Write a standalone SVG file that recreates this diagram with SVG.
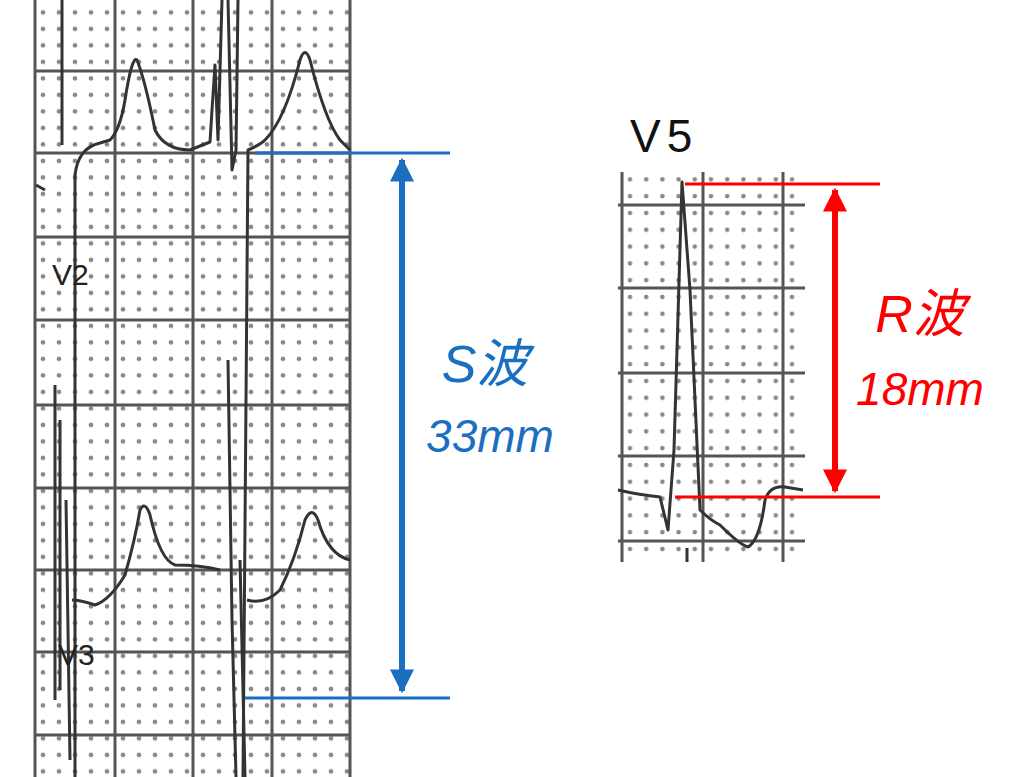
<svg xmlns="http://www.w3.org/2000/svg" width="1024" height="777" viewBox="0 0 1024 777">
<defs>
<style>
.maj{stroke:#555;stroke-width:3;fill:none}
.tr{stroke:#333;stroke-width:3;fill:none;stroke-linejoin:round}
.lab{font-family:"Liberation Sans",sans-serif}
</style>
<pattern id="dotsL" x="35" y="-12" width="16" height="16.5" patternUnits="userSpaceOnUse"><circle cx="8" cy="8" r="2.3" fill="#888"/></pattern>
<pattern id="dotsR" x="622" y="205" width="16.2" height="16.8" patternUnits="userSpaceOnUse"><circle cx="8" cy="8" r="2.3" fill="#888"/></pattern>
<marker id="ab" viewBox="0 0 10 10" refX="9" refY="5" markerWidth="4" markerHeight="4" orient="auto-start-reverse"><path d="M0,0L10,5L0,10z" fill="#1a6fc0"/></marker>
<marker id="ar" viewBox="0 0 10 10" refX="9" refY="5" markerWidth="4" markerHeight="4" orient="auto-start-reverse"><path d="M0,0L10,5L0,10z" fill="#f00"/></marker>
</defs>
<rect width="1024" height="777" fill="#fff"/>
<g id="ecg-left">
<rect x="35" y="0" width="315" height="777" fill="url(#dotsL)"/>
<path class="maj" d="M35,0V777M115,0V777M193,0V777M272,0V777M350,0V777M35,71H350M35,153H350M35,237H350M35,320H350M35,405H350M35,488H350M35,570H350M35,652H350M35,735H350"/>
<path class="tr" d="M62,0V145M75,777V175Q78,148 100,143L110,140Q120,130 125,100Q132,55 137,60Q145,80 155,130Q165,150 190,150L210,142L212,110L215,65L218,140L222,0M228,0L232,170L236,150L238,0M243,777L248,150Q260,145 265,140Q285,120 300,60Q305,45 310,60Q325,120 340,140L350,150"/>
<path class="tr" d="M36,185L45,190"/>
<path class="tr" d="M55,385V700M60,420V690M66,500L70,760M72,600Q80,600 95,605Q110,600 125,575Q135,540 140,510Q145,500 150,515Q160,560 175,565Q200,565 220,570M228,360L232,620L236,777M240,560L245,777M247,600Q265,605 280,590Q295,560 305,520Q312,505 318,520Q328,555 350,560"/>
<text class="lab" x="52" y="285" font-size="30" fill="#222">V2</text>
<text class="lab" x="58" y="665" font-size="30" fill="#222">V3</text>
</g>
<g id="ecg-right">
<rect x="618" y="172" width="187" height="390" fill="url(#dotsR)"/>
<path class="maj" d="M622,172V562M703,172V562M783,172V562M618,205H805M618,288H805M618,373H805M618,456H805M618,541H805"/>
<path class="tr" d="M618,490Q640,495 660,497L668,530L674,450L682,182L690,290L700,510Q710,520 720,525Q740,545 748,547Q760,540 765,500Q770,485 785,487L803,490M687,548V562"/>
<text class="lab" x="630" y="152" font-size="46" fill="#111" letter-spacing="6">V5</text>
</g>
<g id="connectors">
<path d="M255,153H450M245,698H450" stroke="#1a6fc0" stroke-width="3"/>
<path d="M402,160V691" stroke="#1a6fc0" stroke-width="6" marker-start="url(#ab)" marker-end="url(#ab)"/>
<path d="M685,184H880M675,497H880" stroke="#f00" stroke-width="3"/>
<path d="M835,190V491" stroke="#f00" stroke-width="6" marker-start="url(#ar)" marker-end="url(#ar)"/>
</g>
<g id="labels">
<text x="485" y="382" font-size="52" fill="#1a6fc0" text-anchor="middle" font-family="'Liberation Sans','Noto Sans CJK JP',sans-serif" font-style="italic">S波</text>
<text x="490" y="452" font-size="46" fill="#1a6fc0" text-anchor="middle" font-family="'Liberation Sans',sans-serif" font-style="italic">33mm</text>
<text x="920" y="332" font-size="52" fill="#f00" text-anchor="middle" font-family="'Liberation Sans','Noto Sans CJK JP',sans-serif" font-style="italic">R波</text>
<text x="920" y="405" font-size="46" fill="#f00" text-anchor="middle" font-family="'Liberation Sans',sans-serif" font-style="italic">18mm</text>
</g>
</svg>
